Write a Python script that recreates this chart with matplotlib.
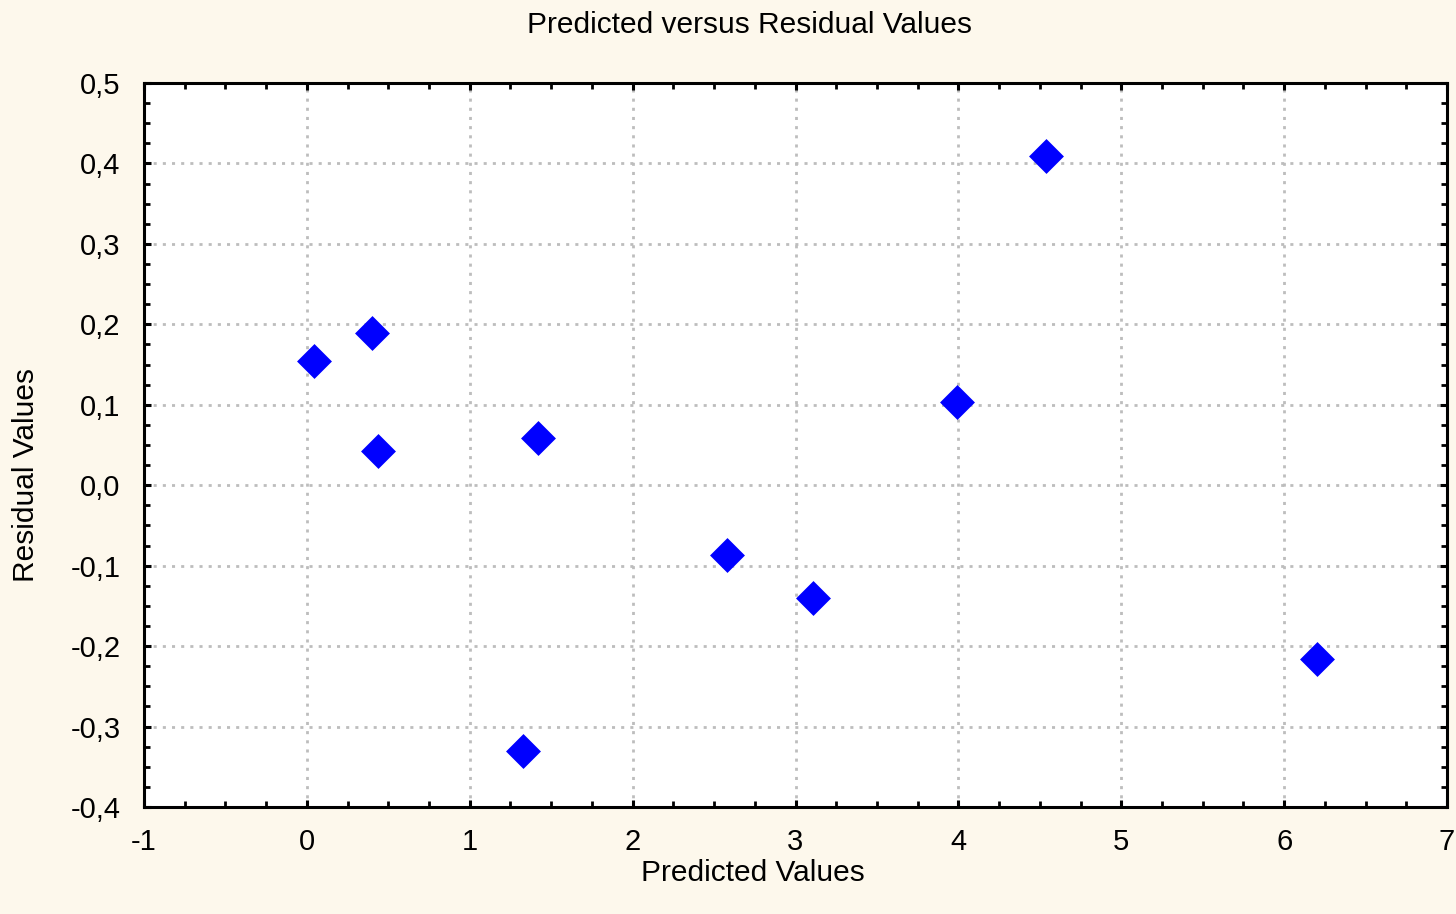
import matplotlib
matplotlib.use("Agg")
import matplotlib.pyplot as plt
from matplotlib.ticker import MultipleLocator, FuncFormatter

# values
predicted = [0.044, 0.400, 0.436, 1.419, 1.327, 2.579, 3.107, 3.991, 4.537, 6.201]
residual = [0.154, 0.189, 0.043, 0.059, -0.330, -0.087, -0.140, 0.103, 0.409, -0.216]

plt.rcParams['font.family'] = ['Liberation Sans', 'DejaVu Sans']

fig = plt.figure(figsize=(14.56, 9.14), dpi=100, facecolor='#fdf8ec')
ax = fig.add_axes([144/1456, 1 - 807/914, (1447-144)/1456, (807-83)/914])
ax.set_facecolor('white')

ax.plot(predicted, residual, linestyle='none', marker='D', markersize=15.5,
        markerfacecolor='#0000ff', markeredgecolor='#0000ff',
        markeredgewidth=2.5, zorder=3)

ax.set_xlim(-1, 7)
ax.set_ylim(-0.4, 0.5)
ax.xaxis.set_major_locator(MultipleLocator(1))
ax.xaxis.set_minor_locator(MultipleLocator(0.25))
ax.yaxis.set_major_locator(MultipleLocator(0.1))
ax.yaxis.set_minor_locator(MultipleLocator(0.025))
ax.yaxis.set_major_formatter(FuncFormatter(lambda v, p: ('%.1f' % v).replace('.', ',').replace('-0,0', '0,0')))
ax.xaxis.set_major_formatter(FuncFormatter(lambda v, p: '%d' % round(v)))

ax.grid(True, which='major', color='#bdbdbd', linewidth=2.0, linestyle=(0, (1.1, 2.2)))
ax.set_axisbelow(True)

for s in ax.spines.values():
    s.set_linewidth(2.2)
    s.set_color('black')

ax.tick_params(which='both', direction='in', top=True, right=True, color='black')
ax.tick_params(which='major', length=5, width=2.2, labelsize=21)
ax.tick_params(which='minor', length=4, width=2)
ax.tick_params(axis='x', which='major', pad=15)
ax.tick_params(axis='y', which='major', pad=17)

fig.text(750/1456, 1 - 25/914, 'Predicted versus Residual Values', ha='center', va='center', fontsize=21.5)
fig.text(753/1456, 1 - 873/914, 'Predicted Values', ha='center', va='center', fontsize=21.5)
fig.text(26/1456, 1 - 475/914, 'Residual Values', ha='center', va='center', rotation=90, fontsize=21.5)

fig.savefig('out.png', dpi=100, facecolor=fig.get_facecolor())
